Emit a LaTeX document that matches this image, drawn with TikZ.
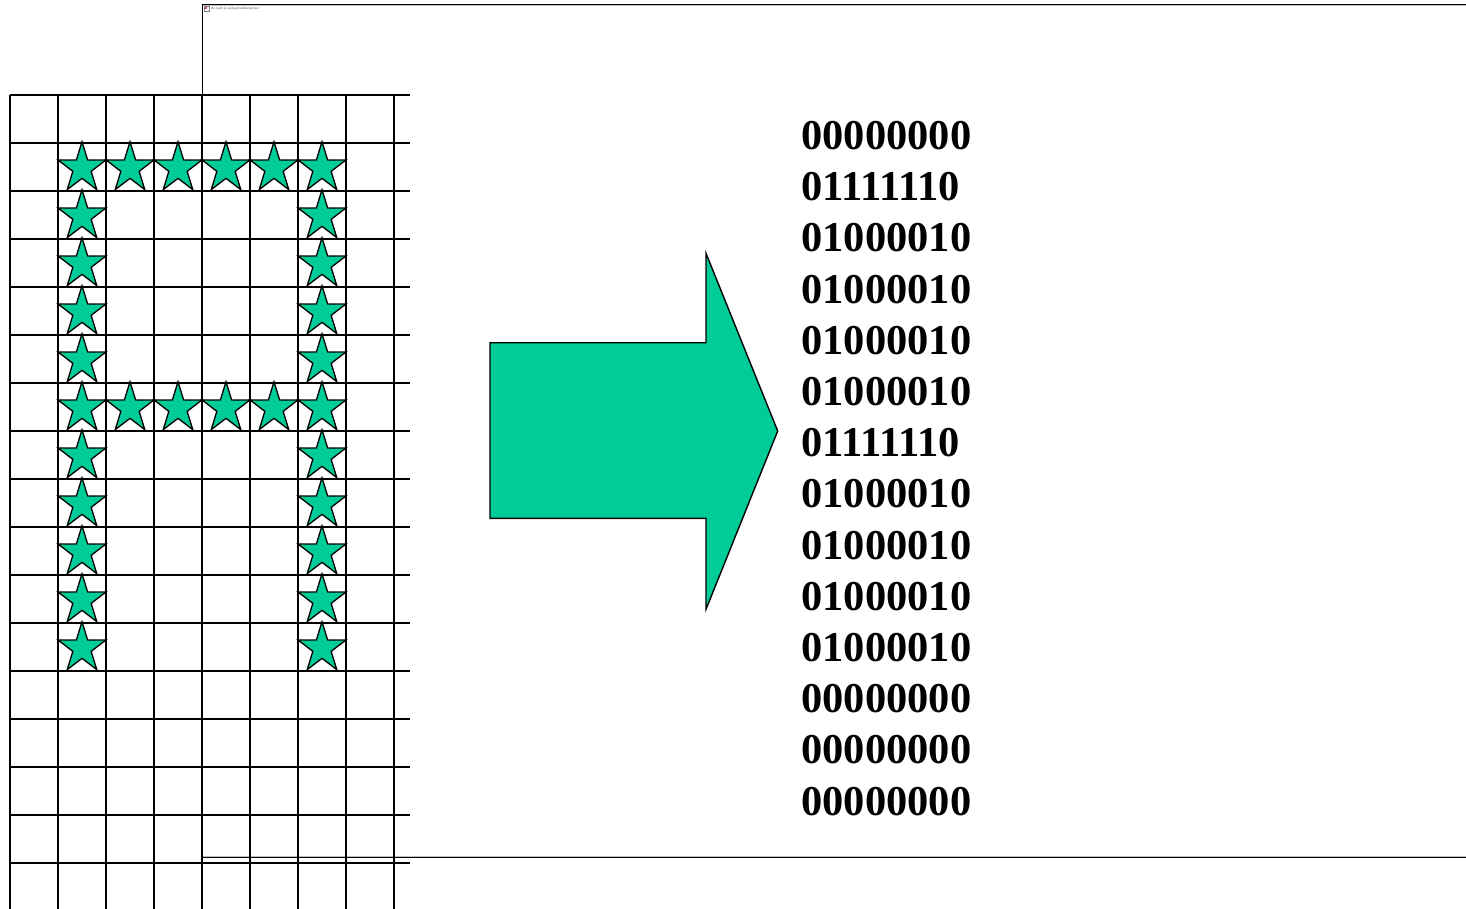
\documentclass[tikz,border=0pt]{standalone}
\usepackage{fontspec}
\setmainfont{Liberation Serif}
\newfontfamily\smallsans{Liberation Sans}
\definecolor{bitgreen}{RGB}{0,204,153}
\tikzset{
  gridline/.style={line width=0.9pt, black},
  frameline/.style={line width=0.45pt, black},
  frameshade/.style={line width=0.5pt, black!25},
  starfill/.style={fill=bitgreen, draw=black, line width=0.65pt, line join=miter},
  arrowfill/.style={fill=bitgreen, draw=black, line width=0.7pt, line join=miter},
  bits/.style={anchor=base west, inner sep=0pt, font=\fontsize{21.25pt}{25pt}\selectfont\bfseries},
  pics/bitstar/.style={code={
    \draw[starfill, xscale=25.2, yscale=-26.5]
      (90:1) -- (126:0.382) -- (162:1) -- (198:0.382) -- (234:1) --
      (270:0.382) -- (306:1) -- (342:0.382) -- (18:1) -- (54:0.382) -- cycle;
  }}
}
\begin{document}
\begin{tikzpicture}[x={(0.5pt,0pt)}, y={(0pt,-0.5pt)}]
\useasboundingbox (0,0) rectangle (1466,909);

% frame of the embedded picture
\draw[frameshade] (203,6) -- (1466,6);
\draw[frameshade] (203,856) -- (1466,856);
\draw[frameline] (1466,4.5) -- (202,4.5) -- (202,95);
\draw[frameline] (202,857.5) -- (1466,857.5);
\draw[black!50, line width=0.3pt] (204.5,6.5) rectangle (209,11.5);
\fill[red!75] (205.3,7.3) rectangle (207.2,9.2);
\node[anchor=west, inner sep=0pt, font=\smallsans\fontsize{1.5pt}{2pt}\selectfont, text=black!70]
  (caption) at (211,9) {Bu resim şu anda görüntülenemiyor.};

% 8 x 17 pixel grid
\foreach \i in {0,...,8}
  \draw[gridline] (10+48*\i,95) -- (10+48*\i,909);
\foreach \j in {0,...,16}
  \draw[gridline] (10,95+48*\j) -- (410,95+48*\j);

% letter A made of stars
\foreach \c in {1,...,6} {
  \pic at (34+48*\c, 120.2+48) {bitstar};
  \pic at (34+48*\c, 120.2+48*6) {bitstar};
}
\foreach \r in {2,3,4,5,7,8,9,10,11} {
  \pic at (34+48, 120.2+48*\r) {bitstar};
  \pic at (34+48*6, 120.2+48*\r) {bitstar};
}

% block arrow
\draw[arrowfill] (490,342.7) -- (706,342.7) -- (706,253.3) -- (777.7,431)
  -- (706,609.3) -- (706,518.3) -- (490,518.3) -- cycle;

% bit rows
\foreach \b [count=\k from 0] in {00000000,01111110,01000010,01000010,01000010,01000010,01111110,01000010,01000010,01000010,01000010,00000000,00000000,00000000}
  \node[bits] (b\k) at (801,149.5+51.2*\k) {\b};
\end{tikzpicture}
\end{document}
